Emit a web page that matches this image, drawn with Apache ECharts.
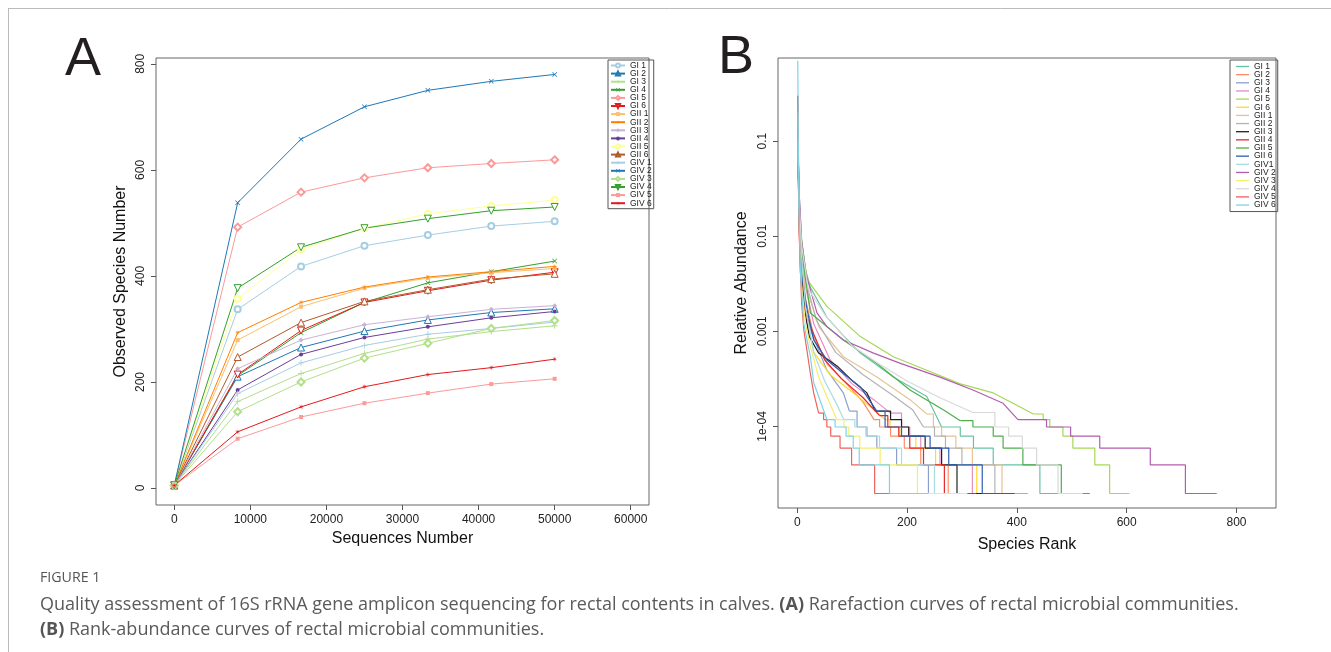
<!DOCTYPE html>
<html>
<head>
<meta charset="utf-8">
<script src="https://cdn.jsdelivr.net/npm/echarts@6/dist/echarts.min.js"></script>
<style>
html, body { margin: 0; padding: 0; background: #fff; }
#main { width: 1331px; height: 652px; }
</style>
</head>
<body>
<div id="main"></div>
<script>
// ---- panel A : rarefaction curves ----
var seqNumbers = [0, 8333, 16667, 25000, 33333, 41667, 50000];
var xTicksA = [0, 10000, 20000, 30000, 40000, 50000, 60000];
var yTicksA = [0, 200, 400, 600, 800];
var namesA = ['GI 1', 'GI 2', 'GI 3', 'GI 4', 'GI 5', 'GI 6',
              'GII 1', 'GII 2', 'GII 3', 'GII 4', 'GII 5', 'GII 6',
              'GIV 1', 'GIV 2', 'GIV 3', 'GIV 4', 'GIV 5', 'GIV 6'];

var rareGI1  = [5, 337, 418, 457, 477, 494, 503];
var rareGI2  = [5, 210, 265, 296, 317, 331, 338];
var rareGI3  = [5, 163, 216, 254, 281, 295, 306];
var rareGI4  = [5, 212, 293, 350, 387, 408, 428];
var rareGI5  = [5, 492, 558, 585, 604, 612, 619];
var rareGI6  = [5, 214, 297, 350, 372, 392, 407];
var rareGII1 = [5, 279, 342, 377, 396, 406, 414];
var rareGII2 = [5, 293, 350, 379, 398, 408, 418];
var rareGII3 = [5, 225, 279, 308, 323, 337, 344];
var rareGII4 = [5, 185, 252, 284, 304, 321, 333];
var rareGII5 = [5, 357, 450, 490, 517, 532, 543];
var rareGII6 = [5, 247, 312, 352, 374, 394, 404];
var rareGIV1 = [5, 178, 236, 269, 290, 301, 313];
var rareGIV2 = [5, 538, 658, 719, 750, 767, 780];
var rareGIV3 = [5, 144, 200, 245, 273, 301, 316];
var rareGIV4 = [5, 377, 454, 490, 508, 523, 530];
var rareGIV5 = [5, 93, 134, 160, 179, 196, 206];
var rareGIV6 = [5, 106, 153, 191, 214, 227, 243];

// ---- panel B : rank-abundance curves, [rank, relative abundance] ----
var xTicksB = [0, 200, 400, 600, 800];
var yTicksB = [0.1, 0.01, 0.001, 0.0001];
var yLabelsB = ['0.1', '0.01', '0.001', '1e-04'];
var namesB = ['GI 1', 'GI 2', 'GI 3', 'GI 4', 'GI 5', 'GI 6',
              'GII 1', 'GII 2', 'GII 3', 'GII 4', 'GII 5', 'GII 6',
              'GIV1', 'GIV 2', 'GIV 3', 'GIV 4', 'GIV 5', 'GIV 6'];

var rankGI1  = [[1,0.12],[2,0.06],[4,0.025],[8,0.009],[15,0.0045],[24,0.0029],[54,0.0014],[84,0.0009],[115,0.00059],[175,0.00033],[236,0.000206],[263,9.86e-5],[297,7.89e-5],[321,5.92e-5],[357,3.94e-5],[442,1.97e-5],[493,1.97e-5]];
var rankGI2  = [[1,0.25],[2,0.08],[4,0.02],[8,0.006],[15,0.0022],[30,0.0009],[55,0.00045],[90,0.00028],[120,0.00018],[140,1.18e-4],[150,9.86e-5],[170,7.89e-5],[195,5.92e-5],[225,3.94e-5],[275,1.97e-5],[331,1.97e-5]];
var rankGI3  = [[1,0.3],[2,0.07],[4,0.015],[8,0.004],[15,0.0017],[24,0.00104],[54,0.00039],[84,0.000225],[95,0.000145],[109,9.86e-5],[127,7.89e-5],[145,5.92e-5],[181,3.94e-5],[239,1.97e-5],[300,1.97e-5]];
var rankGI4  = [[1,0.2],[2,0.06],[4,0.02],[8,0.007],[15,0.003],[30,0.0012],[60,0.0005],[100,0.00028],[140,0.00019],[170,1.38e-4],[190,9.86e-5],[205,7.89e-5],[225,5.92e-5],[260,3.94e-5],[319,1.97e-5],[420,1.97e-5]];
var rankGI5  = [[1,0.08],[2,0.04],[4,0.018],[8,0.009],[18,0.0035],[54,0.00183],[115,0.00088],[175,0.00054],[236,0.00039],[297,0.00028],[357,0.000225],[393,0.000175],[430,0.000135],[448,1.18e-4],[460,9.86e-5],[484,7.89e-5],[502,5.92e-5],[542,3.94e-5],[569,1.97e-5],[605,1.97e-5]];
var rankGI6  = [[1,0.15],[2,0.05],[4,0.012],[8,0.004],[15,0.0016],[30,0.0006],[60,0.00035],[100,0.00023],[140,0.00015],[160,1.18e-4],[169,9.86e-5],[187,7.89e-5],[216,5.92e-5],[252,3.94e-5],[327,1.97e-5],[399,1.97e-5]];
var rankGII1 = [[1,0.13],[2,0.06],[4,0.02],[8,0.007],[15,0.003],[40,0.0011],[84,0.00054],[145,0.00033],[206,0.00019],[236,0.000135],[248,9.86e-5],[263,7.89e-5],[289,5.92e-5],[319,3.94e-5],[373,1.97e-5],[406,1.97e-5]];
var rankGII2 = [[1,0.18],[2,0.06],[4,0.02],[8,0.008],[15,0.0035],[35,0.0013],[70,0.0006],[120,0.00035],[170,0.00022],[210,0.00015],[230,9.86e-5],[250,7.89e-5],[270,5.92e-5],[300,3.94e-5],[360,1.97e-5],[410,1.97e-5]];
var rankGII3 = [[1,0.09],[2,0.05],[4,0.015],[8,0.004],[15,0.0015],[22,0.00088],[39,0.00059],[73,0.00043],[102,0.000296],[127,0.000225],[142,0.000145],[170,1.18e-4],[190,9.86e-5],[203,7.89e-5],[233,5.92e-5],[263,3.94e-5],[291,1.97e-5],[337,1.97e-5]];
var rankGII4 = [[1,0.3],[2,0.05],[3,0.014],[6,0.004],[12,0.0018],[25,0.0011],[50,0.0005],[80,0.00032],[120,0.0002],[150,0.00013],[165,9.86e-5],[185,7.89e-5],[205,5.92e-5],[230,3.94e-5],[268,1.97e-5],[326,1.97e-5]];
var rankGII5 = [[1,0.1],[2,0.05],[4,0.02],[8,0.007],[24,0.00156],[84,0.00081],[145,0.00046],[206,0.00024],[266,0.00015],[297,0.000115],[320,9.86e-5],[357,7.89e-5],[375,5.92e-5],[411,3.94e-5],[481,1.97e-5],[533,1.97e-5]];
var rankGII6 = [[1,0.06],[2,0.04],[4,0.012],[8,0.004],[18,0.00168],[30,0.00081],[54,0.0005],[84,0.00036],[115,0.00026],[145,0.000145],[160,9.86e-5],[190,7.89e-5],[242,5.92e-5],[276,3.94e-5],[337,1.97e-5],[396,1.97e-5]];
var rankGIV1 = [[1,0.2],[3,0.03],[8,0.006],[15,0.0018],[30,0.0006],[50,0.0003],[70,0.00018],[85,1.18e-4],[105,9.86e-5],[125,7.89e-5],[150,5.92e-5],[190,3.94e-5],[250,1.97e-5],[307,1.97e-5]];
var rankGIV2 = [[1,0.15],[2,0.06],[4,0.025],[8,0.009],[16,0.004],[36,0.00156],[54,0.00112],[84,0.00081],[139,0.00059],[188,0.00046],[260,0.00033],[321,0.00024],[375,0.000175],[402,1.18e-4],[454,9.86e-5],[498,7.89e-5],[551,5.92e-5],[643,3.94e-5],[707,1.97e-5],[764,1.97e-5]];
var rankGIV3 = [[1,0.2],[2,0.05],[4,0.012],[8,0.003],[15,0.0012],[24,0.00069],[39,0.00033],[54,0.000206],[72,1.18e-4],[85,9.86e-5],[94,7.89e-5],[114,5.92e-5],[151,3.94e-5],[219,1.97e-5],[310,1.97e-5]];
var rankGIV4 = [[1,0.1],[2,0.05],[4,0.02],[8,0.008],[20,0.0028],[50,0.0015],[100,0.0007],[150,0.00045],[200,0.0003],[260,0.0002],[320,0.00014],[360,9.86e-5],[385,7.89e-5],[410,5.92e-5],[436,3.94e-5],[475,1.97e-5],[520,1.97e-5]];
var rankGIV5 = [[1,0.25],[2,0.06],[4,0.01],[8,0.002],[12,0.00104],[24,0.00036],[30,0.000225],[39,1.38e-4],[48,1.18e-4],[54,9.86e-5],[61,7.89e-5],[78,5.92e-5],[99,3.94e-5],[141,1.97e-5],[202,1.97e-5]];
var rankGIV6 = [[1,0.7],[2,0.1],[3,0.02],[6,0.004],[12,0.0012],[24,0.00054],[30,0.00029],[54,1.18e-4],[69,9.86e-5],[89,7.89e-5],[102,5.92e-5],[113,3.94e-5],[168,1.97e-5],[238,1.97e-5]];

var rareData = [rareGI1, rareGI2, rareGI3, rareGI4, rareGI5, rareGI6,
                rareGII1, rareGII2, rareGII3, rareGII4, rareGII5, rareGII6,
                rareGIV1, rareGIV2, rareGIV3, rareGIV4, rareGIV5, rareGIV6];
var rankData = [rankGI1, rankGI2, rankGI3, rankGI4, rankGI5, rankGI6,
                rankGII1, rankGII2, rankGII3, rankGII4, rankGII5, rankGII6,
                rankGIV1, rankGIV2, rankGIV3, rankGIV4, rankGIV5, rankGIV6];

var colorsA = ['#A6CEE3', '#1F78B4', '#B2DF8A', '#33A02C', '#FB9A99', '#E31A1C',
               '#FDBF6F', '#FF7F00', '#CAB2D6', '#6A3D9A', '#FFFF99', '#B15928',
               '#A6CEE3', '#1F78B4', '#B2DF8A', '#33A02C', '#FB9A99', '#E31A1C'];
var colorsB = ['#66C2A5', '#FC8D62', '#8DA0CB', '#E78AC3', '#A6D854', '#FFD92F',
               '#E5C494', '#B3B3B3', '#222222', '#E8262A', '#4DAF4A', '#2D5DB5',
               '#A9DDE6', '#B25DAF', '#F5EE6A', '#D9D9D9', '#F0605D', '#7FD3E3'];

var FONT = '"Liberation Sans", Arial, sans-serif';
var CAPFONT = '"Open Sans", sans-serif';

// R pch 1..10 style markers
var plusPath = 'path://M4.3,0h1.4v4.3h4.3v1.4h-4.3v4.3h-1.4v-4.3h-4.3v-1.4h4.3z';
var crossPath = 'path://M1,0L5,4L9,0L10,1L6,5L10,9L9,10L5,6L1,10L0,9L4,5L0,1Z';
var triUpPath = 'path://M5,0L10,8.66L0,8.66Z';
var triDownPath = 'path://M0,0L10,0L5,8.66Z';
var starPath = 'path://M5,0L5.46,3.89L8.54,1.46L6.11,4.54L10,5L6.11,5.46L8.54,8.54L5.46,6.11L5,10L4.54,6.11L1.46,8.54L3.89,5.46L0,5L3.89,4.54L1.46,1.46L4.54,3.89Z';
var pchSymbols = ['emptyCircle', triUpPath, plusPath, crossPath, 'emptyDiamond',
                  triDownPath, 'rect', starPath, 'diamond', 'circle'];
var pchSizes = [6, 7, 6, 5, 7, 7, 4, 6, 5, 4];
var pchHollow = [true, true, false, false, true, true, false, false, false, false];

var series = [];
namesA.forEach(function (name, i) {
  var k = i % 10;
  var c = colorsA[i];
  var item = pchHollow[k] ? { color: (k === 1 || k === 5 ? '#fff' : c), borderColor: c, borderWidth: 1 }
                          : { color: c, borderWidth: 0 };
  series.push({
    name: name,
    type: 'line',
    xAxisIndex: 0,
    yAxisIndex: 0,
    data: seqNumbers.map(function (x, j) { return [x, rareData[i][j]]; }),
    symbol: pchSymbols[k],
    symbolSize: pchSizes[k],
    showAllSymbol: true,
    lineStyle: { color: c, width: 1 },
    itemStyle: item,
    z: 2
  });
});
// head of each curve as a plain line, tail (low counts) as stairs
namesB.forEach(function (name, i) {
  var d = rankData[i];
  var cut = 0;
  while (cut < d.length - 1 && d[cut][1] >= 1.5e-4) cut++;
  var base = {
    name: 'B ' + name,
    type: 'line',
    xAxisIndex: 1,
    yAxisIndex: 1,
    symbol: 'none',
    lineStyle: { color: colorsB[i], width: 1.2 },
    itemStyle: { color: colorsB[i] },
    z: 2
  };
  series.push(Object.assign({}, base, { data: d.slice(0, cut + 1) }));
  series.push(Object.assign({}, base, { data: d.slice(cut), step: 'end' }));
});

var tickStyle = { length: 5, lineStyle: { color: '#555', width: 1 } };
var noLine = { show: false, onZero: false };

var option = {
  animation: false,
  backgroundColor: '#fff',
  grid: [
    { left: 156, top: 58, width: 493, height: 447, show: true, borderColor: '#666', borderWidth: 1, backgroundColor: 'transparent' },
    { left: 778, top: 58, width: 498, height: 450, show: true, borderColor: '#666', borderWidth: 1, backgroundColor: 'transparent' }
  ],
  xAxis: [
    {
      gridIndex: 0, type: 'value', min: -2400, max: 62400,
      axisLine: noLine, splitLine: { show: false },
      axisTick: Object.assign({ customValues: xTicksA }, tickStyle),
      axisLabel: { customValues: xTicksA, margin: 9, fontSize: 12, color: '#222', fontFamily: FONT,
                   formatter: function (v) { return String(v); } },
      name: 'Sequences Number', nameLocation: 'middle', nameGap: 21,
      nameTextStyle: { fontSize: 16, color: '#111', fontFamily: FONT }
    },
    {
      gridIndex: 1, type: 'value', min: -35, max: 872,
      axisLine: noLine, splitLine: { show: false },
      axisTick: Object.assign({ customValues: xTicksB }, tickStyle),
      axisLabel: { customValues: xTicksB, margin: 9, fontSize: 12, color: '#222', fontFamily: FONT },
      name: 'Species Rank', nameLocation: 'middle', nameGap: 29,
      nameTextStyle: { fontSize: 16, color: '#111', fontFamily: FONT }
    }
  ],
  yAxis: [
    {
      gridIndex: 0, type: 'value', min: -32, max: 811,
      axisLine: noLine, splitLine: { show: false },
      axisTick: Object.assign({ customValues: yTicksA }, tickStyle),
      axisLabel: { customValues: yTicksA, rotate: 90, margin: 9, fontSize: 12, color: '#222', fontFamily: FONT },
      name: 'Observed Species Number', nameLocation: 'middle', nameGap: 27,
      nameTextStyle: { fontSize: 16, color: '#111', fontFamily: FONT }
    },
    {
      gridIndex: 1, type: 'log', logBase: 10, min: 1.387e-5, max: 0.7475,
      axisLine: noLine, splitLine: { show: false },
      axisTick: Object.assign({ customValues: yTicksB }, tickStyle),
      axisLabel: {
        customValues: yTicksB, rotate: 90, margin: 9, fontSize: 12, color: '#222', fontFamily: FONT,
        formatter: function (v) {
          for (var i = 0; i < yTicksB.length; i++) {
            if (Math.abs(Math.log10(v) - Math.log10(yTicksB[i])) < 1e-6) return yLabelsB[i];
          }
          return '';
        }
      },
      name: 'Relative Abundance', nameLocation: 'middle', nameGap: 28,
      nameTextStyle: { fontSize: 16, color: '#111', fontFamily: FONT }
    }
  ],
  legend: [
    {
      data: namesA, orient: 'vertical', left: 608, top: 60,
      itemWidth: 14, itemHeight: 5, itemGap: -0.9, padding: [1, 2, 1, 2],
      borderColor: '#555', borderWidth: 1, selectedMode: false,
      textStyle: { fontSize: 8.5, lineHeight: 8, color: '#222', fontFamily: FONT }
    },
    {
      data: namesB.map(function (n) { return 'B ' + n; }),
      formatter: function (n) { return n.slice(2); },
      orient: 'vertical', left: 1230, top: 60,
      icon: 'rect', itemWidth: 13, itemHeight: 1.3, itemGap: -0.85, padding: [2, 2, 2, 6],
      borderColor: '#555', borderWidth: 1, selectedMode: false,
      textStyle: { fontSize: 8.5, lineHeight: 8, color: '#222', fontFamily: FONT }
    }
  ],
  graphic: [
    { type: 'line', shape: { x1: 8, y1: 8.5, x2: 1331, y2: 8.5 }, style: { stroke: '#bbb', lineWidth: 1 } },
    { type: 'line', shape: { x1: 8.5, y1: 8, x2: 8.5, y2: 652 }, style: { stroke: '#bbb', lineWidth: 1 } },
    { type: 'text', x: 83, y: 60, style: { text: 'A', font: '54px ' + FONT, fill: '#231f20', align: 'center', verticalAlign: 'middle' } },
    { type: 'text', x: 736, y: 58, style: { text: 'B', font: '54px ' + FONT, fill: '#231f20', align: 'center', verticalAlign: 'middle' } },
    { type: 'text', x: 40, y: 578, style: { text: 'FIGURE 1', font: '14.2px ' + CAPFONT, fill: '#555', verticalAlign: 'middle' } },
    { type: 'text', x: 40, y: 605, style: {
        text: 'Quality assessment of 16S rRNA gene amplicon sequencing for rectal contents in calves. {b|(A)} Rarefaction curves of rectal microbial communities.',
        font: '18px ' + CAPFONT, fill: '#5a5a5a', verticalAlign: 'middle',
        rich: { b: { fontWeight: 'bold', fontSize: 18, fontFamily: CAPFONT, fill: '#555' } } } },
    { type: 'text', x: 40, y: 630, style: {
        text: '{b|(B)} Rank-abundance curves of rectal microbial communities.',
        font: '18px ' + CAPFONT, fill: '#5a5a5a', verticalAlign: 'middle',
        rich: { b: { fontWeight: 'bold', fontSize: 18, fontFamily: CAPFONT, fill: '#555' } } } }
  ],
  series: series
};

var chart = echarts.init(document.getElementById('main'), null, { renderer: 'canvas' });
chart.setOption(option);
</script>
</body>
</html>
